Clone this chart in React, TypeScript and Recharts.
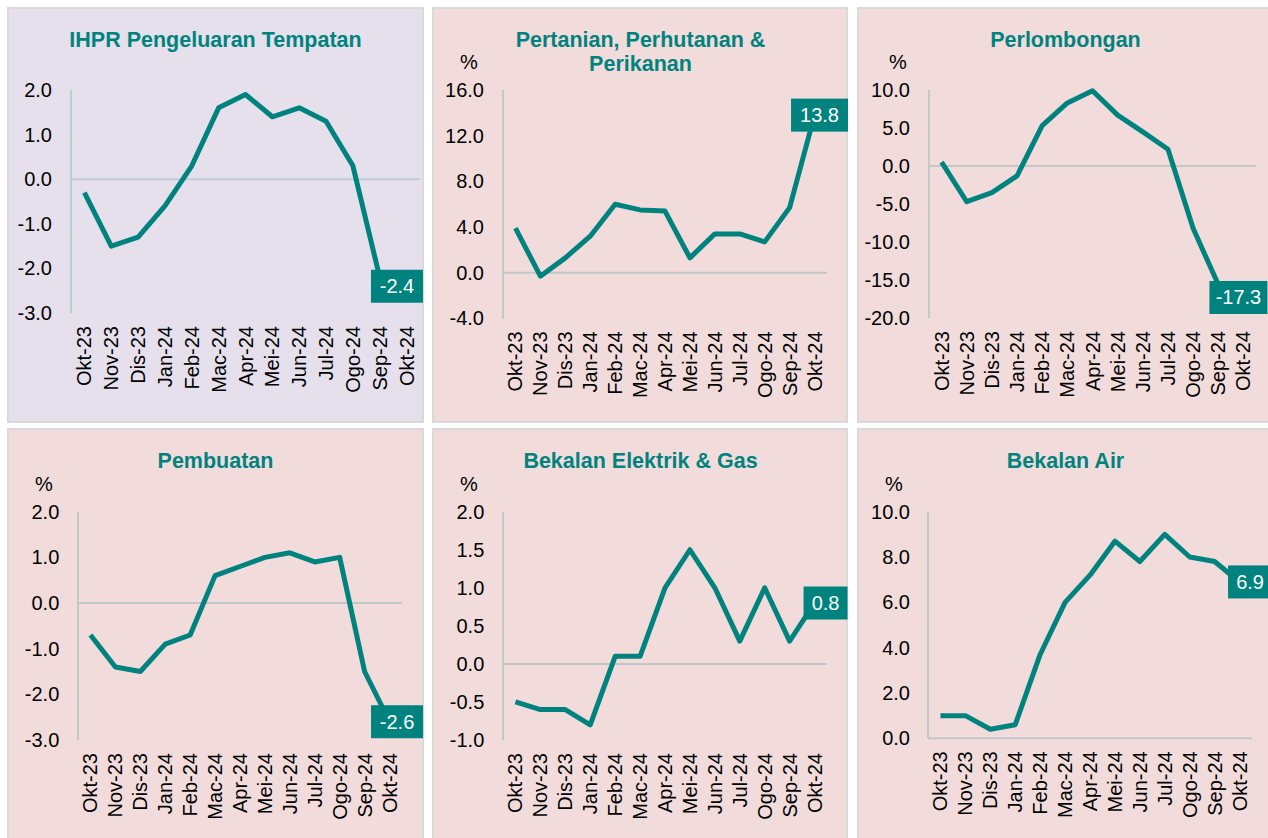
import React from 'react';
import { LineChart, Line, XAxis, YAxis, ReferenceLine } from 'recharts';

const months = ['Okt-23', 'Nov-23', 'Dis-23', 'Jan-24', 'Feb-24', 'Mac-24', 'Apr-24', 'Mei-24', 'Jun-24', 'Jul-24', 'Ogo-24', 'Sep-24', 'Okt-24'];

const ihprValues = [-0.3, -1.5, -1.3, -0.6, 0.3, 1.6, 1.9, 1.4, 1.6, 1.3, 0.3, -2.2, -2.4];
const pertanianValues = [3.9, -0.3, 1.3, 3.2, 6.0, 5.5, 5.4, 1.3, 3.4, 3.4, 2.7, 5.7, 13.8];
const perlombonganValues = [0.5, -4.7, -3.5, -1.3, 5.3, 8.3, 9.9, 6.7, 4.5, 2.2, -8.2, -15.6, -17.3];
const pembuatanValues = [-0.7, -1.4, -1.5, -0.9, -0.7, 0.6, 0.8, 1.0, 1.1, 0.9, 1.0, -1.5, -2.6];
const elektrikValues = [-0.5, -0.6, -0.6, -0.8, 0.1, 0.1, 1.0, 1.5, 1.0, 0.3, 1.0, 0.3, 0.8];
const airValues = [1.0, 1.0, 0.4, 0.6, 3.7, 6.0, 7.2, 8.7, 7.8, 9.0, 8.0, 7.8, 6.9];

const ihprTicks = [-3, -2, -1, 0, 1, 2];
const pertanianTicks = [-4, 0, 4, 8, 12, 16];
const perlombonganTicks = [-20, -15, -10, -5, 0, 5, 10];
const pembuatanTicks = [-3, -2, -1, 0, 1, 2];
const elektrikTicks = [-1, -0.5, 0, 0.5, 1, 1.5, 2];
const airTicks = [0, 2, 4, 6, 8, 10];

const TEAL = '#00837E';
const FONT = '"Liberation Sans", Arial, sans-serif';

type PanelCfg = {
  title: string[];
  values: number[];
  ticks: number[];
  left: number;
  top: number;
  width: number;
  height: number;
  plotLeft: number;
  plotRight: number;
  plotTop: number;
  plotBottom: number;
  labelRight: number;
  percent: boolean;
  percentX: number;
  percentY: number;
  bg: string;
  axisColor: string;
  labelDx: number;
  labelW: number;
};

const panels: PanelCfg[] = [
  { title: ['IHPR Pengeluaran Tempatan'], values: ihprValues, ticks: ihprTicks, left: 7, top: 7, width: 417, height: 416,
    plotLeft: 64, plotRight: 413, plotTop: 83, plotBottom: 306, labelRight: 45, percent: false, percentX: 0, percentY: 0,
    bg: '#E6E0EC', axisColor: '#BBCFD6', labelDx: -9.6, labelW: 52 },
  { title: ['Pertanian, Perhutanan &', 'Perikanan'], values: pertanianValues, ticks: pertanianTicks, left: 432, top: 7, width: 416, height: 416,
    plotLeft: 71, plotRight: 395, plotTop: 83, plotBottom: 311.4, labelRight: 52, percent: true, percentX: 37, percentY: 55,
    bg: '#F2DCDB', axisColor: '#C2C8C8', labelDx: 5, labelW: 57 },
  { title: ['Perlombongan'], values: perlombonganValues, ticks: perlombonganTicks, left: 857, top: 7, width: 418, height: 416,
    plotLeft: 72, plotRight: 399, plotTop: 83, plotBottom: 311, labelRight: 53, percent: true, percentX: 41, percentY: 55,
    bg: '#F2DCDB', axisColor: '#C2C8C8', labelDx: -5, labelW: 58 },
  { title: ['Pembuatan'], values: pembuatanValues, ticks: pembuatanTicks, left: 7, top: 428, width: 417, height: 416,
    plotLeft: 71, plotRight: 395, plotTop: 83.7, plotBottom: 312, labelRight: 52.3, percent: true, percentX: 37, percentY: 56,
    bg: '#F2DCDB', axisColor: '#C2C8C8', labelDx: 7.5, labelW: 52 },
  { title: ['Bekalan Elektrik & Gas'], values: elektrikValues, ticks: elektrikTicks, left: 432, top: 428, width: 416, height: 416,
    plotLeft: 71, plotRight: 395, plotTop: 83.7, plotBottom: 312, labelRight: 52.3, percent: true, percentX: 37, percentY: 56,
    bg: '#F2DCDB', axisColor: '#C2C8C8', labelDx: 11, labelW: 44 },
  { title: ['Bekalan Air'], values: airValues, ticks: airTicks, left: 857, top: 428, width: 418, height: 416,
    plotLeft: 71, plotRight: 395, plotTop: 83.7, plotBottom: 310.3, labelRight: 53, percent: true, percentX: 37, percentY: 56,
    bg: '#F2DCDB', axisColor: '#C2C8C8', labelDx: 10.5, labelW: 44 },
];

function Panel({ cfg }: { cfg: PanelCfg }) {
  const data = months.map((m, i) => ({ month: m, value: cfg.values[i] }));
  const plotW = cfg.plotRight - cfg.plotLeft;
  const half = plotW / months.length / 2;
  const lastIdx = months.length - 1;
  const yTick = (props: any) => {
    const { y, payload } = props;
    return (
      <text x={cfg.labelRight} y={y} dy="0.35em" textAnchor="end" fontSize={20} fill="#000" fontFamily={FONT}>
        {Number(payload.value).toFixed(1)}
      </text>
    );
  };
  const xTick = (props: any) => {
    const { x, payload } = props;
    const ty = cfg.plotBottom + 13;
    return (
      <text x={x} y={ty} dy="0.35em" textAnchor="end" fontSize={20} fill="#000" fontFamily={FONT}
        transform={`rotate(-90, ${x}, ${ty})`}>
        {payload.value}
      </text>
    );
  };
  const label = (props: any) => {
    const { x, y, index, value } = props;
    if (index !== lastIdx) return <g />;
    const cx = x + cfg.labelDx;
    return (
      <g>
        <rect x={cx - cfg.labelW / 2} y={y - 16.5} width={cfg.labelW} height={33} fill={TEAL} />
        <text x={cx} y={y} dy="0.35em" textAnchor="middle" fontSize={20} fill="#fff" fontFamily={FONT}>
          {Number(value).toFixed(1)}
        </text>
      </g>
    );
  };
  return (
    <div style={{ position: 'absolute', left: cfg.left, top: cfg.top, width: cfg.width, height: cfg.height,
      background: cfg.bg, boxShadow: 'inset 0 0 0 2px #D9D9D9', overflow: 'hidden' }}>
      <div style={{ position: 'absolute', left: 0, top: 21, width: 417, textAlign: 'center',
        fontFamily: FONT, fontWeight: 'bold', fontSize: 21.5, lineHeight: '24px', color: TEAL }}>
        {cfg.title.map((t, i) => <div key={i}>{t}</div>)}
      </div>
      {cfg.percent && (
        <div style={{ position: 'absolute', left: cfg.percentX - 15, top: cfg.percentY - 11, width: 30, textAlign: 'center',
          fontFamily: FONT, fontSize: 20, lineHeight: '22px', color: '#000' }}>%</div>
      )}
      <div style={{ position: 'absolute', left: 0, top: 0 }}>
        <LineChart width={cfg.width} height={cfg.height} data={data}
          margin={{ top: cfg.plotTop, right: cfg.width - cfg.plotRight, bottom: 0, left: 0 }}>
          <XAxis dataKey="month" interval={0} axisLine={false} tickLine={false} tick={xTick}
            height={cfg.height - cfg.plotBottom} padding={{ left: half, right: half }} />
          <YAxis type="number" domain={[cfg.ticks[0], cfg.ticks[cfg.ticks.length - 1]]} ticks={cfg.ticks} interval={0}
            width={cfg.plotLeft} axisLine={{ stroke: cfg.axisColor, strokeWidth: 2 }} tickLine={false} tick={yTick} />
          <ReferenceLine y={0} stroke={cfg.axisColor} strokeWidth={2} />
          <Line type="linear" dataKey="value" stroke={TEAL} strokeWidth={5} dot={false} isAnimationActive={false}
            strokeLinejoin="round" label={label} />
        </LineChart>
      </div>
    </div>
  );
}

export default function App() {
  return (
    <div style={{ position: 'absolute', left: 0, top: 0, width: 1268, height: 838, background: '#fff', overflow: 'hidden' }}>
      {panels.map((p, i) => <Panel key={i} cfg={p} />)}
    </div>
  );
}
